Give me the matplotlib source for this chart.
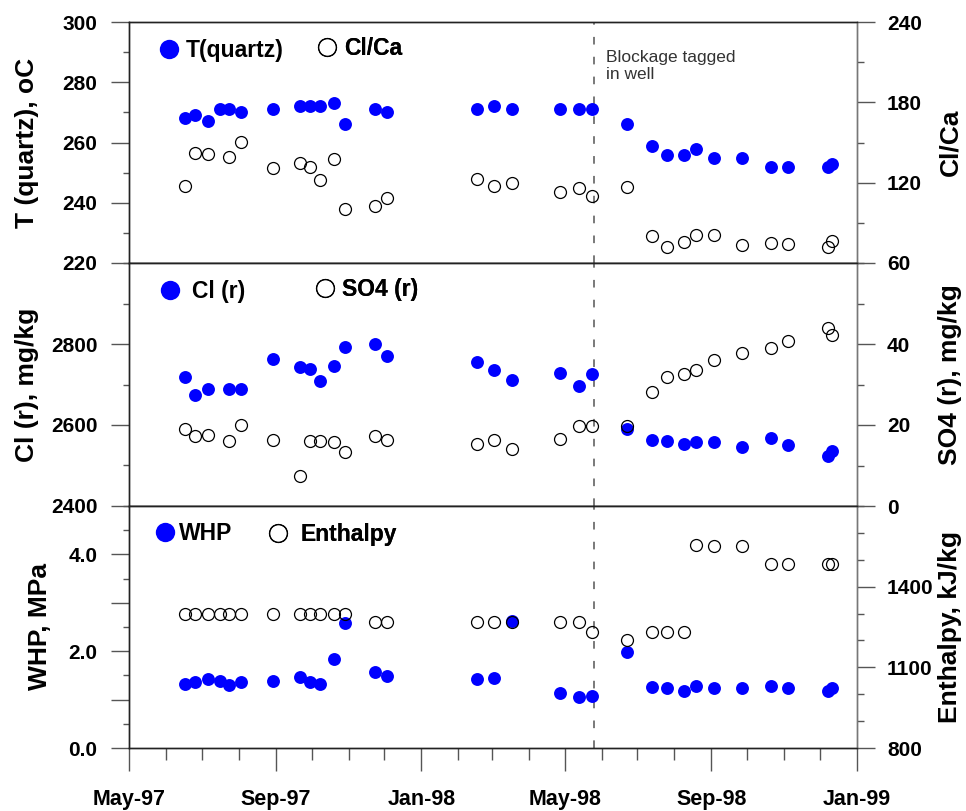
import numpy as np
import pandas as pd
import matplotlib
matplotlib.use('Agg')
import matplotlib.pyplot as plt
import matplotlib.dates as mdates
from matplotlib.ticker import FixedLocator, MultipleLocator, FixedFormatter

plt.rcParams['font.family'] = ['Liberation Sans', 'DejaVu Sans']
plt.rcParams['font.weight'] = 'bold'

# sample dates
dates = pd.to_datetime([
    '1997-06-17', '1997-06-25', '1997-07-06', '1997-07-16', '1997-07-24',
    '1997-08-03', '1997-08-30', '1997-09-21', '1997-09-30', '1997-10-08',
    '1997-10-20', '1997-10-29', '1997-11-23', '1997-12-03', '1998-02-17',
    '1998-03-03', '1998-03-18', '1998-04-27', '1998-05-13', '1998-05-24',
    '1998-06-22', '1998-07-13', '1998-07-26', '1998-08-09', '1998-08-19',
    '1998-09-03', '1998-09-27', '1998-10-21', '1998-11-04', '1998-12-08',
    '1998-12-11'])
blockage = pd.Timestamp('1998-05-26')

t_quartz = [268, 269, 267, 271, 271, 270, 271, 272, 272, 272, 273, 266, 271, 270,
            271, 272, 271, 271, 271, 271, 266, 259, 256, 256, 258, 255, 255, 252,
            252, 252, 253]
cl_ca = [117.5, 141.9, 141.4, None, 139.4, 150.1, 131.2, 135.0, 132.0, 122.2,
         137.5, 100.6, 102.6, 108.3, 122.5, 117.7, 119.5, 113.3, 116.3, 110.3,
         116.5, 80.2, 72.2, 75.9, 80.9, 80.9, 73.4, 74.7, 74.2, 72.2, 76.4]
cl_r = [2719, 2674, 2688, None, 2688, 2689, 2762, 2744, 2738, 2709, 2746, 2792,
        2800, 2770, 2756, 2736, 2711, 2728, 2696, 2725, 2589, 2562, 2561, 2554,
        2559, 2559, 2546, 2567, 2551, 2524, 2536]
so4_r = [18.9, 17.3, 17.6, None, 16.0, 20.1, 16.2, 7.3, 16.0, 16.0, 15.7, 13.3,
         17.3, 16.3, 15.4, 16.2, 14.0, 16.5, 19.7, 19.8, 19.8, 28.1, 31.9, 32.5,
         33.5, 36.1, 37.7, 39.0, 40.7, 43.9, 42.3]
whp = [1.33, 1.36, 1.43, 1.38, 1.30, 1.36, 1.38, 1.47, 1.36, 1.33, 1.83, 2.58,
       1.58, 1.48, 1.43, 1.45, 2.63, 1.14, 1.06, 1.08, 1.98, 1.26, 1.24, 1.18,
       1.28, 1.23, 1.23, 1.28, 1.23, 1.17, 1.23]
enthalpy = [1300, 1300, 1300, 1300, 1300, 1300, 1300, 1300, 1300, 1300, 1300, 1300,
            1270, 1270, 1270, 1270, 1270, 1270, 1270, 1230, 1200, 1230, 1230, 1230,
            1555, 1552, 1552, 1485, 1485, 1485, 1485]

panels = [
    dict(left=t_quartz, right=cl_ca, llab='T(quartz)', rlab='Cl/Ca',
         ylabel='T (quartz), oC', ylabel2='Cl/Ca',
         lim=(220, 300), lmaj=[220, 240, 260, 280, 300], lmajlab=None, lmin=10,
         lim2=(60, 240), rmaj=[60, 120, 180, 240], rmin=30,
         leg=[(0.0413, 0.882, 0.33), (0.2587, 0.892, 0.33)],
         lx=15, ly=0.5, ry=0.5),
    dict(left=cl_r, right=so4_r, llab='Cl (r)', rlab='SO4 (r)',
         ylabel='Cl (r), mg/kg', ylabel2='SO4 (r), mg/kg',
         lim=(2400, 3000), lmaj=[2400, 2600, 2800], lmajlab=None, lmin=100,
         lim2=(0, 60), rmaj=[0, 20, 40], rmin=10,
         leg=[(0.0429, 0.881, 0.55), (0.2559, 0.891, 0.32)],
         lx=15, ly=0.5, ry=0.54),
    dict(left=whp, right=enthalpy, llab='WHP', rlab='Enthalpy',
         ylabel='WHP, MPa', ylabel2='Enthalpy, kJ/kg',
         lim=(0, 5), lmaj=[0, 1, 2, 3, 4], lmajlab=['0.0', '', '2.0', '', '4.0'], lmin=0.5,
         lim2=(800, 1700), rmaj=[800, 1100, 1400], rmin=100,
         leg=[(0.0354, 0.888, 0.22), (0.1911, 0.884, 0.57)],
         lx=28, ly=0.5, ry=0.5),
]

fig = plt.figure(figsize=(9.66, 8.11), dpi=100)
W, H = 966.0, 811.0
x0, x1 = 129, 857
rows = [(22, 263), (263, 506), (506, 748)]

blue = '#0000ff'
spine_c = '#222222'
tick_c = '#555555'

axes = []
for i, (p, (ytop, ybot)) in enumerate(zip(panels, rows)):
    ax = fig.add_axes([x0 / W, 1 - ybot / H, (x1 - x0) / W, (ybot - ytop) / H],
                      sharex=axes[0] if axes else None)
    ax2 = ax.twinx()
    axes.append(ax)

    h1, = ax.plot(dates, np.array(p['left'], dtype=float), 'o', color=blue,
                  ms=9.3, mec=blue, mew=0, label=p['llab'], zorder=3)
    h2, = ax2.plot(dates, np.array(p['right'], dtype=float), 'o', mfc='none',
                   mec='black', ms=8.6, mew=0.9, label=p['rlab'], zorder=3)

    ax.axvline(blockage, color='#555555', lw=1.1, ls=(0, (5, 8)), zorder=1)

    ax.set_ylim(*p['lim'])
    ax.yaxis.set_major_locator(FixedLocator(p['lmaj']))
    if p['lmajlab'] is not None:
        ax.yaxis.set_major_formatter(FixedFormatter(p['lmajlab']))
    ax.yaxis.set_minor_locator(MultipleLocator(p['lmin']))
    ax2.set_ylim(*p['lim2'])
    ax2.yaxis.set_major_locator(FixedLocator(p['rmaj']))
    ax2.yaxis.set_minor_locator(MultipleLocator(p['rmin']))

    ax.tick_params(axis='y', which='major', direction='out', length=13, width=1,
                   pad=9.7, labelsize=15, color=tick_c)
    ax.tick_params(axis='y', which='minor', direction='out', length=4.3, width=1,
                   color=tick_c)
    ax2.tick_params(axis='y', which='major', direction='out', length=13, width=1,
                    pad=8.6, labelsize=15, color=tick_c)
    ax2.tick_params(axis='y', which='minor', direction='out', length=5, width=1,
                    color=tick_c)

    for a in (ax, ax2):
        for s in a.spines.values():
            s.set_color(spine_c)
            s.set_linewidth(1)
        a.spines['right'].set_color('#777777')

    # y labels
    ax.set_ylabel(p['ylabel'], fontsize=19, fontweight='bold')
    ax.yaxis.label.set_verticalalignment('top')
    ax.yaxis.set_label_coords((p['lx'] - x0) / (x1 - x0), p['ly'])
    ax2.set_ylabel(p['ylabel2'], fontsize=19, fontweight='bold', rotation=90)
    ax2.yaxis.label.set_verticalalignment('top')
    ax2.yaxis.set_label_coords((938 - x0) / (x1 - x0), p['ry'])

    # legend entries
    for h, (lx, ly, pad) in zip((h1, h2), p['leg']):
        lg = ax2.legend(handles=[h], loc='center left', bbox_to_anchor=(lx, ly),
                        frameon=False, borderpad=0, borderaxespad=0,
                        handlelength=0.85, handletextpad=pad, markerscale=1.5,
                        prop={'size': 16.5, 'weight': 'bold'})
        ax2.add_artist(lg)

    if i < 2:
        ax.tick_params(axis='x', which='both', bottom=False, labelbottom=False)

    if i == 0:
        ax.text((606 - x0) / (x1 - x0), 0.882, 'Blockage tagged\nin well',
                transform=ax.transAxes, fontsize=12.5, fontweight='normal',
                color='#333333', va='top', ha='left', linespacing=1.1)

axb = axes[-1]
axb.set_xlim(pd.Timestamp('1997-05-01'), pd.Timestamp('1999-01-01'))
axb.xaxis.set_major_locator(mdates.MonthLocator(bymonth=[1, 5, 9]))
axb.xaxis.set_minor_locator(mdates.MonthLocator())
axb.xaxis.set_major_formatter(mdates.DateFormatter('%b-%y'))
axb.tick_params(axis='x', which='major', direction='out', length=16.5, width=1,
                pad=13, labelsize=15.5, color=tick_c)
axb.tick_params(axis='x', which='minor', direction='out', length=8.6, width=1,
                color=tick_c)

fig.savefig('out.png', dpi=100)
